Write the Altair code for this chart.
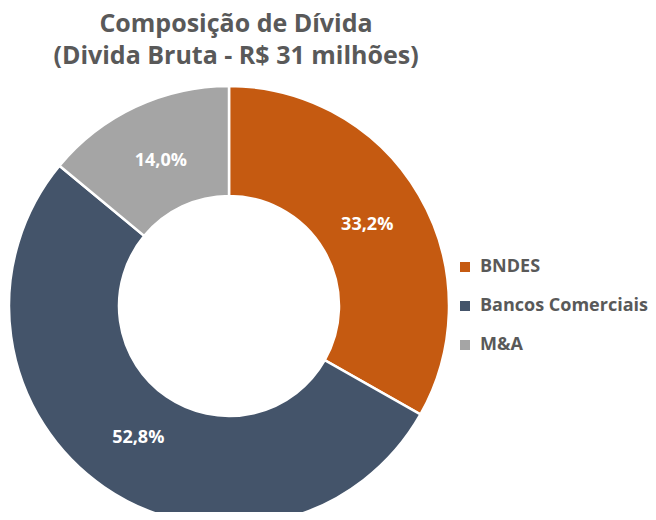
import altair as alt
import pandas as pd

categories = ["BNDES", "Bancos Comerciais", "M&A"]
values = [33.2, 52.8, 14.0]
labels = ["33,2%", "52,8%", "14,0%"]
colors = ["#C55A11", "#44546A", "#A5A5A5"]
title_lines = ["Composição de Dívida", "(Divida Bruta - R$ 31 milhões)"]

df = pd.DataFrame({"cat": categories, "value": values, "label": labels,
                   "order": list(range(len(categories)))})

CX, CY = 221, 298
FONT = "Open Sans"

base = alt.Chart(df).encode(
    theta=alt.Theta("value:Q", stack=True),
    order=alt.Order("order:Q"),
)

arc = base.mark_arc(outerRadius=220, innerRadius=110, stroke="white", strokeWidth=2.5).encode(
    x=alt.value(CX), y=alt.value(CY),
    color=alt.Color("cat:N", scale=alt.Scale(domain=categories, range=colors),
                    sort=categories,
                    legend=alt.Legend(orient="none", legendX=448, legendY=250, title=None,
                                      symbolType="square", symbolSize=100,
                                      labelFont=FONT, labelFontSize=18, labelFontWeight="bold",
                                      labelColor="#595959", rowPadding=21, labelOffset=6,
                                      labelLimit=400, padding=0, symbolStrokeWidth=0)),
)

text = base.mark_text(radius=160, font=FONT, fontSize=18, fontWeight="bold", color="white").encode(
    x=alt.value(CX), y=alt.value(CY), text="label:N",
)

t1 = alt.Chart(pd.DataFrame({"t": [title_lines[0]]})).mark_text(
    font=FONT, fontSize=25, fontWeight="bold", color="#595959", baseline="middle"
).encode(text="t:N", x=alt.value(CX + 7), y=alt.value(16))

t2 = alt.Chart(pd.DataFrame({"t": [title_lines[1]]})).mark_text(
    font=FONT, fontSize=25, fontWeight="bold", color="#595959", baseline="middle"
).encode(text="t:N", x=alt.value(CX + 7), y=alt.value(48))

chart = alt.layer(arc, text, t1, t2).properties(
    width=640, height=504, padding=0, autosize=alt.AutoSizeParams(type="none")
).configure_view(stroke=None)

chart.save("out.html", embed_options={"renderer": "svg", "actions": False})
